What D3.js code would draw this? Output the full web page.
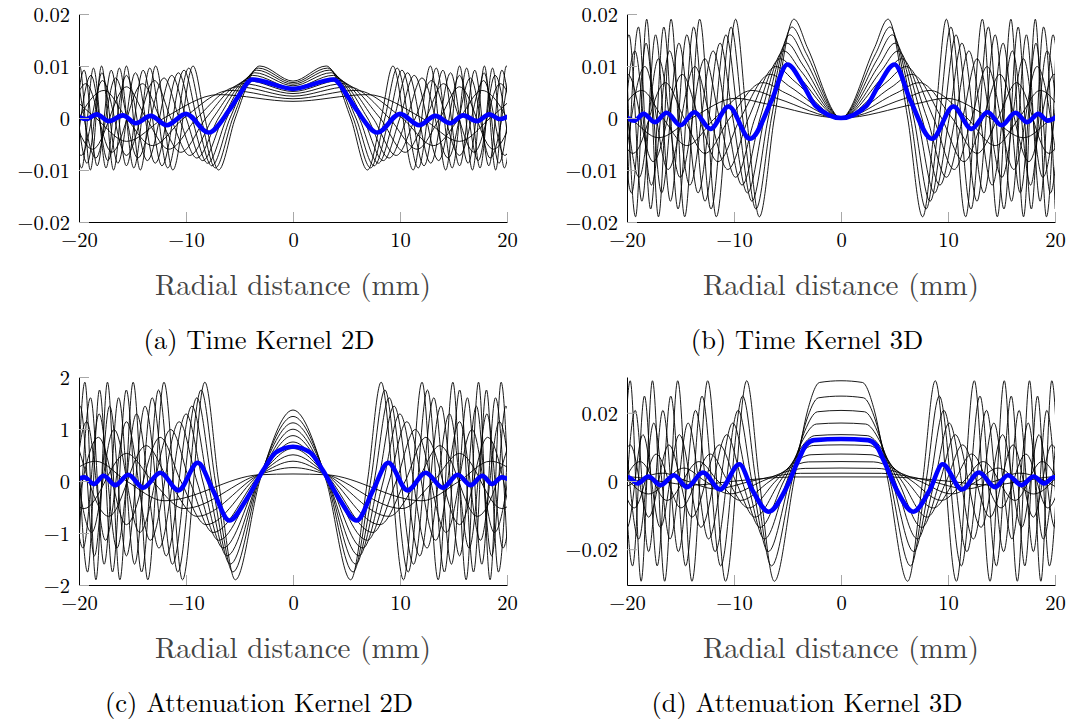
<!DOCTYPE html>
<html>
<head>
<meta charset="utf-8">
<script src="https://cdn.jsdelivr.net/npm/d3@7"></script>
<style>
  body { margin: 0; background: #fff; }
  svg text { font-family: 'Latin Modern Roman', 'CMU Serif', 'Liberation Serif', serif; }
</style>
</head>
<body>
<div id="canvas"></div>
<script>
'use strict';

// Shared radial axis (mm).
const radialDomain = [-20, 20];
const radialTicks = [-20, -10, 0, 10, 20];
const radialLabel = 'Radial distance (mm)';

const captions = [
  '(a) Time Kernel 2D',
  '(b) Time Kernel 3D',
  '(c) Attenuation Kernel 2D',
  '(d) Attenuation Kernel 3D',
];

const timeKernel2DTicks = [-0.02, -0.01, 0, 0.01, 0.02];
const timeKernel3DTicks = [-0.02, -0.01, 0, 0.01, 0.02];
const attenuationKernel2DTicks = [-2, -1, 0, 1, 2];
const attenuationKernel3DTicks = [-0.02, 0, 0.02];

// Each kernel is symmetric in r, so only r >= 0 is listed: [r (mm), value].
const timeKernel2D = [
  [[0, .0071], [3.11, .01], [5.39, 0], [6.96, -.01], [8.24, 0], [9.34, .01], [11.23, -.01], [12.84, .01], [14.27, -.01], [15.57, .01], [16.77, -.01], [17.89, .01], [18.94, -.01], [19.94, .01], [20.89, -.01]],
  [[0, .0068], [3.24, .0096], [5.62, 0], [7.26, -.0096], [8.59, 0], [9.74, .0096], [11.71, -.0096], [13.39, .0096], [14.88, -.0096], [16.23, .0096], [17.48, -.0096], [18.65, .0096], [19.75, -.0096], [20.79, .0096]],
  [[0, .0065], [3.39, .0092], [5.88, 0], [7.59, -.0092], [8.99, 0], [10.19, .0092], [12.25, -.0092], [14.01, .0092], [15.57, -.0092], [16.99, .0092], [18.30, -.0092], [19.52, .0092], [20.67, -.0092]],
  [[0, .0062], [3.57, .0087], [6.18, 0], [7.98, -.0087], [9.45, 0], [10.71, .0087], [12.88, -.0087], [14.73, .0087], [16.37, -.0087], [17.86, .0087], [19.24, -.0087], [20.52, .0087]],
  [[0, .0058], [3.77, .0082], [6.54, 0], [8.44, -.0082], [9.99, 0], [11.33, .0082], [13.62, -.0082], [15.57, .0082], [17.31, -.0082], [18.88, .0082], [20.34, -.0082]],
  [[0, .0055], [4.01, .0077], [6.96, 0], [8.99, -.0077], [10.64, 0], [12.06, .0077], [14.50, -.0077], [16.58, .0077], [18.42, -.0077], [20.10, .0077]],
  [[0, .0051], [4.31, .0072], [7.47, 0], [9.65, -.0072], [11.43, 0], [12.95, .0072], [15.57, -.0072], [17.81, .0072], [19.79, -.0072], [21.59, .0072]],
  [[0, .0047], [4.69, .0066], [8.13, 0], [10.49, -.0066], [12.42, 0], [14.08, .0066], [16.93, -.0066], [19.36, .0066], [21.51, -.0066]],
  [[0, .0042], [5.18, .006], [8.98, 0], [11.60, -.006], [13.73, 0], [15.57, .006], [18.72, -.006], [21.40, .006]],
  [[0, .0037], [5.88, .0053], [10.19, 0], [13.15, -.0053], [15.57, 0], [17.65, .0053], [21.22, -.0053]],
  [[0, .0032], [6.95, .0045], [12.05, 0], [15.56, -.0045], [18.43, 0], [20.89, .0045]],
];
const timeKernel2DMean = [[0, .0056], [3.8, .0074], [5.0, .0045], [6.0, .0014], [7.9, -.0028], [10.0, .0008], [11.8, -.0014], [13.3, .0004], [14.7, -.0010], [15.9, .0005], [17.2, -.0006], [18.35, .0007], [19.3, -.0002], [20.2, .0004]];

const timeKernel3D = [
  [[0, 0], [3.11, .0134], [4.40, .019], [6.23, 0], [7.63, -.019], [8.81, 0], [9.85, .019], [11.65, -.019], [13.21, .019], [14.61, -.019], [15.88, .019], [17.06, -.019], [18.16, .019], [19.20, -.019], [20.18, .019]],
  [[0, 0], [3.24, .0124], [4.59, .0175], [6.50, 0], [7.95, -.0175], [9.19, 0], [10.27, .0175], [12.15, -.0175], [13.77, .0175], [15.23, -.0175], [16.56, .0175], [17.79, -.0175], [18.93, .0175], [20.02, -.0175]],
  [[0, 0], [3.39, .0113], [4.80, .016], [6.80, 0], [8.33, -.016], [9.61, 0], [10.75, .016], [12.71, -.016], [14.41, .016], [15.94, -.016], [17.33, .016], [18.61, -.016], [19.81, .016], [20.95, -.016]],
  [[0, 0], [3.57, .0102], [5.05, .0144], [7.15, 0], [8.75, -.0144], [10.11, 0], [11.30, .0144], [13.36, -.0144], [15.15, .0144], [16.76, -.0144], [18.22, .0144], [19.57, -.0144], [20.83, .0144]],
  [[0, 0], [3.77, .0091], [5.34, .0129], [7.56, 0], [9.25, -.0129], [10.68, 0], [11.95, .0129], [14.13, -.0129], [16.02, .0129], [17.72, -.0129], [19.26, .0129], [20.69, -.0129]],
  [[0, 0], [4.01, .0081], [5.68, .0114], [8.04, 0], [9.85, -.0114], [11.37, 0], [12.72, .0114], [15.04, -.0114], [17.05, .0114], [18.86, -.0114], [20.50, .0114]],
  [[0, 0], [4.31, .007], [6.10, .0099], [8.64, 0], [10.58, -.0099], [12.22, 0], [13.66, .0099], [16.16, -.0099], [18.32, .0099], [20.26, -.0099]],
  [[0, 0], [4.69, .0059], [6.63, .0084], [9.39, 0], [11.50, -.0084], [13.28, 0], [14.85, .0084], [17.56, -.0084], [19.92, .0084], [22.03, -.0084]],
  [[0, 0], [5.18, .0048], [7.33, .0068], [10.38, 0], [12.72, -.0068], [14.68, 0], [16.42, .0068], [19.42, -.0068], [22.02, .0068]],
  [[0, 0], [5.88, .0037], [8.32, .0053], [11.77, 0], [14.42, -.0053], [16.65, 0], [18.61, .0053], [22.02, -.0053]],
  [[0, 0], [6.95, .0027], [9.84, .0038], [13.93, 0], [17.06, -.0038], [19.70, 0], [22.03, .0038]],
];
const timeKernel3DMean = [[0, 0], [2.4, .0024], [3.6, .0066], [5.0, .0103], [6.5, .0033], [8.5, -.0040], [10.5, .0022], [12.2, -.0021], [13.7, .0011], [15.0, -.0014], [16.3, .0010], [17.4, -.0008], [18.45, .0008], [19.3, -.0005], [20.2, .0003]];

// All curves squeeze through a narrow waist near r = 3 mm.
const attenuationKernel2D = [
  [[0, 1.365], [3.11, 0], [5.39, -1.9], [6.96, 0], [8.24, 1.9], [10.33, -1.9], [12.06, 1.9], [13.57, -1.9], [14.94, 1.9], [16.18, -1.9], [17.34, 1.9], [18.42, -1.9], [19.45, 1.9], [20.42, -1.9]],
  [[0, 1.242], [3.15, .03], [5.62, -1.75], [7.26, 0], [8.59, 1.75], [10.77, -1.75], [12.57, 1.75], [14.15, -1.75], [15.58, 1.75], [16.87, -1.75], [18.08, 1.75], [19.20, -1.75], [20.28, 1.75]],
  [[0, 1.119], [3.15, .06], [5.88, -1.6], [7.59, 0], [8.99, 1.6], [11.27, -1.6], [13.16, 1.6], [14.81, -1.6], [16.30, 1.6], [17.65, -1.6], [18.92, 1.6], [20.10, -1.6]],
  [[0, .996], [3.1, .08], [6.18, -1.44], [7.98, 0], [9.45, 1.44], [11.85, -1.44], [13.83, 1.44], [15.57, -1.44], [17.14, 1.44], [18.56, -1.44], [19.89, 1.44], [21.13, -1.44]],
  [[0, .873], [3.1, .1], [6.54, -1.29], [8.44, 0], [9.99, 1.29], [12.53, -1.29], [14.63, 1.29], [16.46, -1.29], [18.12, 1.29], [19.62, -1.29], [21.03, 1.29]],
  [[0, .75], [3.1, .11], [6.96, -1.14], [8.99, 0], [10.64, 1.14], [13.34, -1.14], [15.57, 1.14], [17.52, -1.14], [19.29, 1.14], [20.89, -1.14]],
  [[0, .627], [3.1, .12], [7.47, -.99], [9.65, 0], [11.43, .99], [14.33, -.99], [16.73, .99], [18.82, -.99], [20.72, .99]],
  [[0, .504], [3.1, .13], [8.13, -.84], [10.49, 0], [12.42, .84], [15.57, -.84], [18.18, .84], [20.46, -.84]],
  [[0, .381], [3.1, .13], [8.98, -.68], [11.60, 0], [13.73, .68], [17.22, -.68], [20.10, .68]],
  [[0, .258], [3.1, .13], [10.19, -.53], [13.15, 0], [15.57, .53], [19.52, -.53], [22.79, .53]],
  [[0, .135], [3.1, .12], [12.05, -.38], [15.56, 0], [18.43, .38], [23.10, -.38]],
];
const attenuationKernel2DMean = [[0, .66], [1.6, .55], [2.8, .2], [4.4, -.37], [5.95, -.76], [7.5, -.17], [8.9, .35], [10.7, -.18], [12.4, .16], [14.0, -.13], [15.4, .12], [16.6, -.08], [17.7, .10], [18.6, -.06], [19.5, .07], [20.2, .03]];

// Flat-topped centre: the second point marks where each plateau ends.
const attenuationKernel3D = [
  [[0, .0294], [2.0, .0289], [3.11, .0208], [4.40, 0], [6.23, -.0294], [7.63, 0], [8.81, .0294], [10.79, -.0294], [12.46, .0294], [13.93, -.0294], [15.26, .0294], [16.48, -.0294], [17.62, .0294], [18.68, -.0294], [19.70, .0294], [20.66, -.0294]],
  [[0, .0249], [2.1, .0244], [3.24, .0176], [4.59, 0], [6.50, -.0249], [7.95, 0], [9.19, .0249], [11.25, -.0249], [12.99, .0249], [14.52, -.0249], [15.91, .0249], [17.18, -.0249], [18.37, .0249], [19.48, -.0249], [20.54, .0249]],
  [[0, .0207], [2.2, .0203], [3.39, .0146], [4.80, 0], [6.80, -.0207], [8.33, 0], [9.61, .0207], [11.77, -.0207], [13.60, .0207], [15.20, -.0207], [16.65, .0207], [17.98, -.0207], [19.23, .0207], [20.38, -.0207]],
  [[0, .017], [2.3, .0167], [3.57, .012], [5.05, 0], [7.15, -.017], [8.75, 0], [10.11, .017], [12.38, -.017], [14.29, .017], [15.98, -.017], [17.50, .017], [18.90, -.017], [20.21, .017]],
  [[0, .0136], [2.45, .0133], [3.77, .0096], [5.34, 0], [7.56, -.0136], [9.25, 0], [10.68, .0136], [13.09, -.0136], [15.11, .0136], [16.89, -.0136], [18.51, .0136], [19.99, -.0136], [21.37, .0136]],
  [[0, .0106], [2.6, .0104], [4.01, .0075], [5.68, 0], [8.04, -.0106], [9.85, 0], [11.37, .0106], [13.93, -.0106], [16.09, .0106], [17.98, -.0106], [19.70, .0106], [21.28, -.0106]],
  [[0, .0079], [2.8, .0077], [4.31, .0056], [6.10, 0], [8.64, -.0079], [10.58, 0], [12.22, .0079], [14.96, -.0079], [17.28, .0079], [19.32, -.0079], [21.16, .0079]],
  [[0, .0057], [3.05, .0056], [4.69, .004], [6.63, 0], [9.39, -.0057], [11.50, 0], [13.28, .0057], [16.27, -.0057], [18.78, .0057], [21.00, -.0057]],
  [[0, .0038], [3.35, .0037], [5.18, .0027], [7.33, 0], [10.38, -.0038], [12.72, 0], [14.68, .0038], [17.98, -.0038], [20.77, .0038]],
  [[0, .0023], [3.8, .00225], [5.88, .0016], [8.32, 0], [11.77, -.0023], [14.42, 0], [16.65, .0023], [20.39, -.0023]],
  [[0, .0012], [4.5, .00118], [6.95, .0008], [9.84, 0], [13.93, -.0012], [17.06, 0], [19.70, .0012], [24.13, -.0012]],
];
const attenuationKernel3DMean = [[0, .0123], [2.5, .0120], [3.3, .0104], [4.0, .0060], [5.2, -.0026], [6.75, -.0090], [8.3, -.0026], [9.5, .0049], [11.3, -.0025], [12.9, .0025], [14.4, -.0018], [15.6, .0017], [16.85, -.0012], [18.0, .0013], [19.0, -.0007], [19.9, .0011], [20.5, .0005]];

/**
 * Reflects a half profile (r >= 0) onto negative radii.
 * @param {!Array<!Array<number>>} points
 * @return {!Array<!Array<number>>}
 */
function mirrorRadial(points) {
  const negative = points.slice(1).map(([r, v]) => [-r, v]).reverse();
  return negative.concat(points);
}

const svg = d3.select('#canvas').append('svg')
    .attr('width', 1072)
    .attr('height', 722);

/**
 * Draws one kernel panel: black family of kernels plus the blue mean.
 */
class KernelPanel {
  constructor(id, layout, curves, mean, yDomain, yTicks, caption) {
    this.id_ = id;
    this.layout_ = layout;
    this.width_ = 428;
    this.height_ = 208;
    this.x_ = d3.scaleLinear()
        .domain(radialDomain)
        .range([0, this.width_]);
    this.y_ = d3.scaleLinear()
        .domain(yDomain)
        .range([this.height_, 0]);
    this.curves_ = curves;
    this.mean_ = mean;
    this.yTicks_ = yTicks;
    this.caption_ = caption;
    this.g_ = svg.append('g')
        .attr('transform', `translate(${layout.left}, ${layout.top})`);
  }

  draw() {
    const g = this.g_;
    g.append('defs')
        .append('clipPath')
        .attr('id', `clip-${this.id_}`)
        .append('rect')
        .attr('width', this.width_)
        .attr('height', this.height_);

    const line = d3.line()
        .x(d => this.x_(d[0]))
        .y(d => this.y_(d[1]))
        .curve(d3.curveMonotoneX);

    const plot = g.append('g')
        .attr('clip-path', `url(#clip-${this.id_})`);
    plot.selectAll('.kernel')
        .data(this.curves_)
        .enter()
        .append('path')
        .attr('class', 'kernel')
        .attr('d', d => line(mirrorRadial(d)))
        .attr('fill', 'none')
        .attr('stroke', '#000')
        .attr('stroke-width', 0.9);
    plot.append('path')
        .datum(mirrorRadial(this.mean_))
        .attr('d', line)
        .attr('fill', 'none')
        .attr('stroke', '#0000ff')
        .attr('stroke-width', 4.6)
        .attr('stroke-linejoin', 'round');

    // Ticks point inwards and are grey, axis lines are black.
    const xAxis = g.append('g')
        .attr('transform', `translate(0, ${this.height_})`)
        .call(d3.axisBottom(this.x_)
            .tickValues(radialTicks)
            .tickFormat(d3.format(''))
            .tickSizeInner(-10)
            .tickSizeOuter(0)
            .tickPadding(10));
    const yAxis = g.append('g')
        .call(d3.axisLeft(this.y_)
            .tickValues(this.yTicks_)
            .tickFormat(d3.format(''))
            .tickSizeInner(-10)
            .tickSizeOuter(0)
            .tickPadding(9));
    [xAxis, yAxis].forEach(axis => {
      axis.attr('font-family', null).attr('font-size', null);
      axis.select('.domain').attr('stroke', '#000').attr('stroke-width', 1);
      axis.selectAll('.tick line').attr('stroke', '#a8a8a8');
      axis.selectAll('.tick text')
          .attr('fill', '#000')
          .style('font-size', '20.5px');
    });
    yAxis.selectAll('.tick text').attr('dy', '0.36em');

    g.append('text')
        .attr('x', this.width_ / 2)
        .attr('y', this.height_ + 60)
        .attr('text-anchor', 'middle')
        .attr('dominant-baseline', 'central')
        .attr('fill', '#444')
        .style('font-size', '29px')
        .text(radialLabel);

    g.append('text')
        .attr('x', this.layout_.captionX - this.layout_.left)
        .attr('y', this.height_ + 116)
        .attr('text-anchor', 'middle')
        .attr('dominant-baseline', 'central')
        .attr('fill', '#000')
        .style('font-size', '26.5px')
        .text(this.caption_);
  }
}

const layouts = [
  {left: 79, top: 14, captionX: 259},
  {left: 627, top: 14, captionX: 807},
  {left: 79, top: 377, captionX: 259},
  {left: 627, top: 377, captionX: 807},
];

new KernelPanel('a', layouts[0], timeKernel2D, timeKernel2DMean,
    [-0.02, 0.02], timeKernel2DTicks, captions[0]).draw();
new KernelPanel('b', layouts[1], timeKernel3D, timeKernel3DMean,
    [-0.02, 0.02], timeKernel3DTicks, captions[1]).draw();
new KernelPanel('c', layouts[2], attenuationKernel2D, attenuationKernel2DMean,
    [-2, 2], attenuationKernel2DTicks, captions[2]).draw();
new KernelPanel('d', layouts[3], attenuationKernel3D, attenuationKernel3DMean,
    [-0.0305, 0.0305], attenuationKernel3DTicks, captions[3]).draw();
</script>
</body>
</html>
